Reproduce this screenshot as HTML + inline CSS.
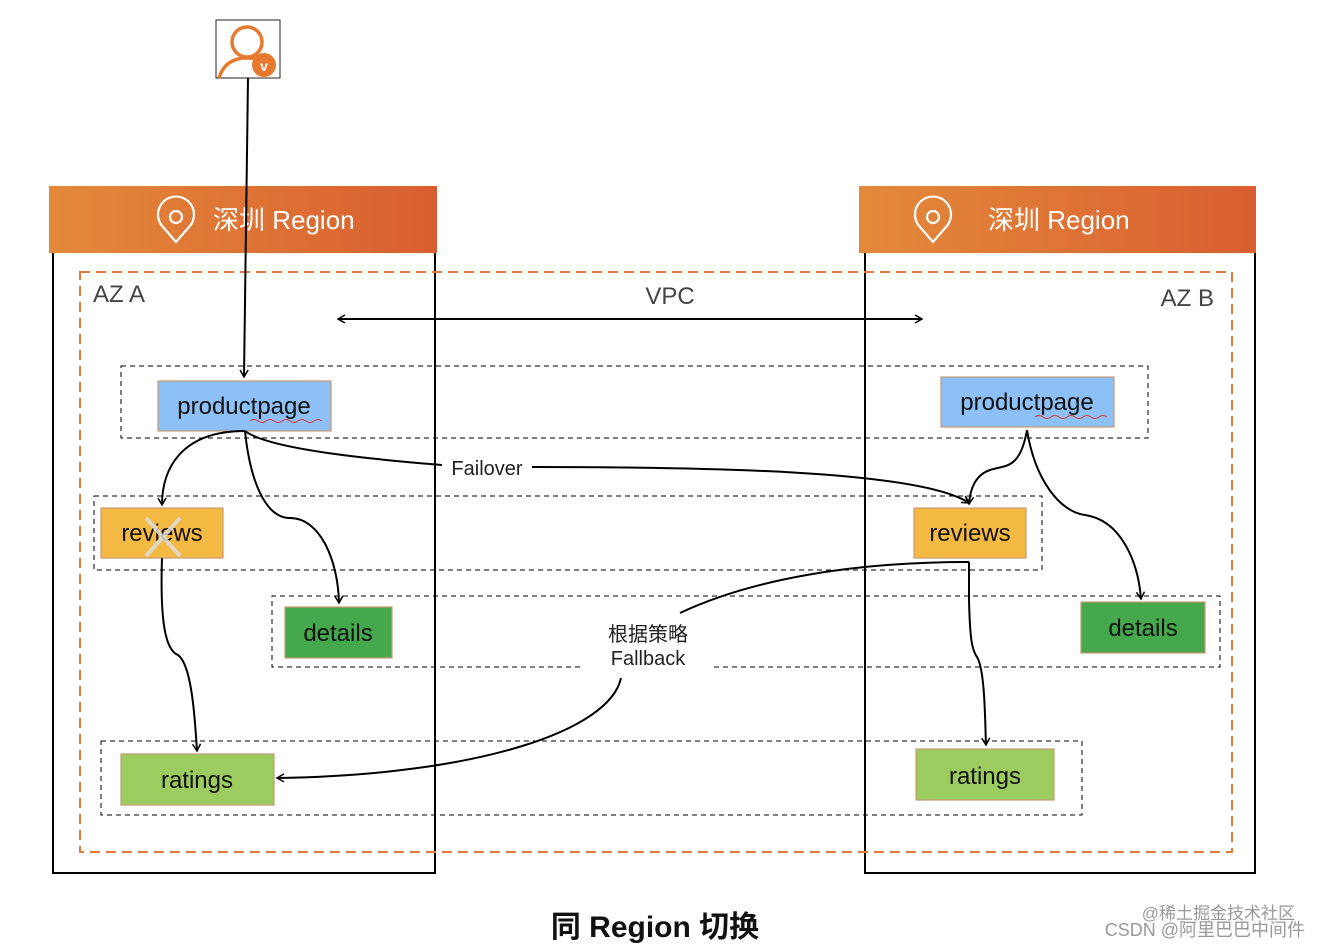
<!DOCTYPE html>
<html><head><meta charset="utf-8"><style>
html,body{margin:0;padding:0;background:#fff;}
svg{display:block;}
text{font-family:"Liberation Sans","Noto Sans CJK SC",sans-serif;}
</style></head><body>
<svg width="1320" height="948" viewBox="0 0 1320 948" xmlns="http://www.w3.org/2000/svg">
<defs>
<linearGradient id="g" x1="0" x2="1" y1="0" y2="0"><stop offset="0" stop-color="#e38a3a"/><stop offset="1" stop-color="#d95e30"/></linearGradient>
<marker id="a" markerWidth="10" markerHeight="10" refX="8" refY="5" orient="auto" markerUnits="userSpaceOnUse"><path d="M1,1 L8,5 L1,9" fill="none" stroke="#000" stroke-width="1.5"/></marker>
<marker id="b" markerWidth="10" markerHeight="10" refX="2" refY="5" orient="auto" markerUnits="userSpaceOnUse"><path d="M9,1 L2,5 L9,9" fill="none" stroke="#000" stroke-width="1.5"/></marker>
</defs>
<!-- user icon -->
<rect x="216" y="20" width="64" height="58" fill="#fff" stroke="#222" stroke-width="1"/>
<circle cx="247" cy="42" r="15" fill="none" stroke="#e57a2e" stroke-width="3.5"/>
<path d="M219,78 Q225,58 247,58 Q258,58 264,62" fill="none" stroke="#e57a2e" stroke-width="3.5"/>
<circle cx="264" cy="65" r="12" fill="#e57a2e"/>
<text x="264" y="71" font-size="14" font-weight="bold" fill="#fff" text-anchor="middle">v</text>
<!-- region boxes -->
<path d="M53,253 V873 H435 V253" fill="none" stroke="#000" stroke-width="2"/>
<path d="M865,253 V873 H1255 V253" fill="none" stroke="#000" stroke-width="2"/>
<rect x="49" y="186" width="388" height="67" fill="url(#g)"/>
<rect x="859" y="186" width="397" height="67" fill="url(#g)"/>
<g fill="none" stroke="#fff" stroke-width="2.2">
<path d="M176,242 L163,227 A18,18 0 1 1 189,227 Z"/><circle cx="176" cy="217" r="6"/>
<path d="M933,242 L920,227 A18,18 0 1 1 946,227 Z"/><circle cx="933" cy="217" r="6"/>
</g>
<text x="213" y="229" font-size="26" fill="#fff">深圳 Region</text>
<text x="988" y="229" font-size="26" fill="#fff">深圳 Region</text>
<!-- VPC dashed -->
<rect x="80" y="272" width="1152" height="580" fill="none" stroke="#e07a36" stroke-width="2" stroke-dasharray="10,6"/>
<text x="93" y="302" font-size="24" fill="#444">AZ A</text>
<text x="670" y="304" font-size="24" fill="#444" text-anchor="middle">VPC</text>
<text x="1214" y="306" font-size="24" fill="#444" text-anchor="end">AZ B</text>
<line x1="338" y1="319" x2="922" y2="319" stroke="#000" stroke-width="2" marker-end="url(#a)" marker-start="url(#b)"/>
<!-- row dashed boxes -->
<g fill="none" stroke="#000" stroke-width="1" stroke-dasharray="5,4">
<rect x="121" y="366" width="1027" height="72"/>
<rect x="94" y="496" width="948" height="74"/>
<path d="M580,667 H272 V596 H1220 V667 H713"/>
<rect x="101" y="741" width="981" height="74"/>
</g>
<!-- nodes -->
<g stroke="#c99a72" stroke-width="1.2">
<rect x="158" y="381" width="173" height="50" fill="#8ec0f8"/>
<rect x="941" y="377" width="173" height="50" fill="#8ec0f8"/>
<rect x="101" y="508" width="122" height="50" fill="#f4b942"/>
<rect x="914" y="508" width="112" height="50" fill="#f4b942"/>
<rect x="285" y="607" width="107" height="51" fill="#45a84c"/>
<rect x="1081" y="602" width="124" height="51" fill="#45a84c"/>
<rect x="121" y="754" width="153" height="51" fill="#9ccb5f"/>
<rect x="916" y="749" width="138" height="51" fill="#9ccb5f"/>
</g>
<g font-size="24" fill="#111" text-anchor="middle">
<text x="244" y="414">productpage</text>
<text x="1027" y="410">productpage</text>
<text x="162" y="541">reviews</text>
<text x="970" y="541">reviews</text>
<text x="338" y="641">details</text>
<text x="1143" y="636">details</text>
<text x="197" y="788">ratings</text>
<text x="985" y="784">ratings</text>
</g>
<path d="M250,421 q4,-3 8,0 t8,0 t8,0 t8,0 t8,0 t8,0 t8,0 t8,0 t8,0" fill="none" stroke="#d33" stroke-width="1"/>
<path d="M1035,417 q4,-3 8,0 t8,0 t8,0 t8,0 t8,0 t8,0 t8,0 t8,0 t8,0" fill="none" stroke="#d33" stroke-width="1"/>
<g stroke="#ddd" stroke-width="4" opacity="0.85"><line x1="146" y1="518" x2="180" y2="556"/><line x1="180" y1="518" x2="146" y2="556"/></g>
<!-- connectors -->
<g fill="none" stroke="#000" stroke-width="2">
<path d="M248,78 L244,377" marker-end="url(#a)"/>
<path d="M245,431 C180,431 162,470 162,505" marker-end="url(#a)"/>
<path d="M245,431 C250,480 265,518 290,518 C320,518 338,560 339,603" marker-end="url(#a)"/>
<path d="M245,431 C270,450 380,460 442,465"/>
<path d="M532,467 C700,467 920,470 969,503" marker-end="url(#a)"/>
<path d="M162,558 C160,620 165,650 178,655 C192,665 195,720 197,751" marker-end="url(#a)"/>
<path d="M1027,430 C1020,470 1005,465 990,470 C975,475 970,490 969,504" marker-end="url(#a)"/>
<path d="M1027,430 C1035,480 1060,512 1085,515 C1120,520 1138,560 1141,599" marker-end="url(#a)"/>
<path d="M969,562 L969,600 C970,640 972,650 977,657 C985,670 985,720 986,745" marker-end="url(#a)"/>
<path d="M969,562 C850,562 750,580 680,613"/>
<path d="M621,678 C610,730 480,775 277,778" marker-end="url(#a)"/>
</g>
<text x="487" y="475" font-size="20" fill="#222" text-anchor="middle">Failover</text>
<text x="648" y="641" font-size="20" fill="#222" text-anchor="middle">根据策略</text>
<text x="648" y="665" font-size="20" fill="#222" text-anchor="middle">Fallback</text>
<text x="655" y="937" font-size="30" font-weight="bold" fill="#111" text-anchor="middle">同 Region 切换</text>
<text x="1295" y="919" font-size="17" fill="#999" text-anchor="end">@稀土掘金技术社区</text>
<text x="1305" y="936" font-size="18" fill="#999" text-anchor="end">CSDN @阿里巴巴中间件</text>
</svg>
</body></html>
